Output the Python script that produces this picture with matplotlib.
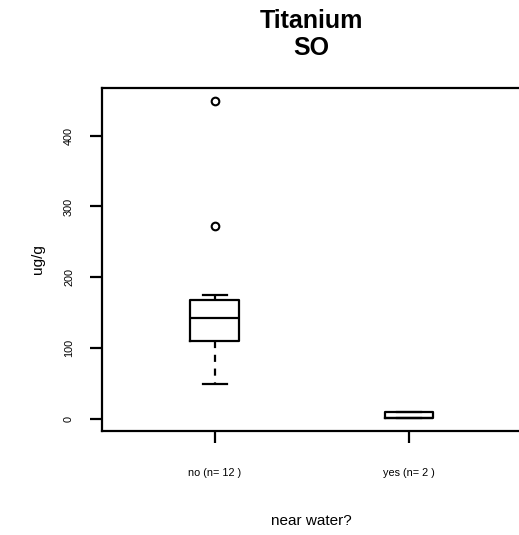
import matplotlib
matplotlib.use("Agg")

import matplotlib.pyplot as plt

# =========================
# Data
# =========================
GROUPS      = ["no", "yes"]
GROUP_N     = [12, 2]
WHISK_LO    = [49.6, 0.4]
Q1          = [109.5, 0.4]
MEDIAN      = [142.1, 0.4]
Q3          = [167.2, 9.5]
WHISK_HI    = [175.3, 9.5]
FLIERS      = [[449.6, 272.5], []]

TITLE_1 = "Titanium"
TITLE_2 = "SO"
Y_LABEL = "ug/g"
X_LABEL = "near water?"
Y_TICKS = [0, 100, 200, 300, 400]

# =========================
# Style
# =========================
W_PX, H_PX, DPI = 519, 535, 100
LW = 1.6
TICK_FS = 7.8
LABEL_FS = 11
TITLE_FS = 18

plt.rcParams["font.family"] = ["Liberation Sans", "DejaVu Sans"]

fig = plt.figure(figsize=(W_PX / DPI, H_PX / DPI), dpi=DPI)

# axes box in pixel geometry (right spine falls just outside the canvas)
left, right, top, bottom = 102, 521.5, 88, 431
ax = fig.add_axes([left / W_PX, 1 - bottom / H_PX,
                   (right - left) / W_PX, (bottom - top) / H_PX])

stats = []
for i, g in enumerate(GROUPS):
    stats.append(dict(
        label=f"{g} (n= {GROUP_N[i]} )",
        whislo=WHISK_LO[i], q1=Q1[i], med=MEDIAN[i],
        q3=Q3[i], whishi=WHISK_HI[i], fliers=FLIERS[i],
    ))

positions = list(range(1, len(GROUPS) + 1))
ax.bxp(
    stats, positions=positions, widths=0.25, showfliers=True,
    boxprops=dict(color="black", linewidth=LW),
    medianprops=dict(color="black", linewidth=LW),
    whiskerprops=dict(color="black", linewidth=LW, linestyle=(0, (3.2, 3.0))),
    capprops=dict(color="black", linewidth=LW),
    flierprops=dict(marker="o", markerfacecolor="none", markeredgecolor="black",
                    markersize=5.5, markeredgewidth=1.5),
)

# R-style 4% axis expansion
ax.set_xlim(0.5 - 0.08, len(GROUPS) + 0.5 + 0.08)
all_vals = WHISK_LO + WHISK_HI + [v for f in FLIERS for v in f]
lo, hi = min(all_vals), max(all_vals)
pad = 0.04 * (hi - lo)
ax.set_ylim(lo - pad, hi + pad)

for s in ax.spines.values():
    s.set_linewidth(LW)

ax.set_yticks(Y_TICKS)
ax.set_yticklabels([str(t) for t in Y_TICKS])
ax.tick_params(axis="y", length=8.6, width=LW, pad=11.5, labelsize=TICK_FS,
               labelrotation=90)
for t in ax.get_yticklabels():
    t.set_va("center")
ax.tick_params(axis="x", length=8.6, width=LW, pad=18, labelsize=TICK_FS)

fig.text(311.5 / W_PX, 1 - 28.3 / H_PX, TITLE_1, ha="center", va="baseline",
         fontsize=TITLE_FS, fontweight="bold")
fig.text(311.5 / W_PX, 1 - 55 / H_PX, TITLE_2, ha="center", va="baseline",
         fontsize=TITLE_FS, fontweight="bold")
fig.text(38 / W_PX, 1 - 259.5 / H_PX, Y_LABEL, rotation=90, ha="center",
         va="center", fontsize=LABEL_FS)
fig.text(311.5 / W_PX, 1 - 525 / H_PX, X_LABEL, ha="center", va="baseline",
         fontsize=LABEL_FS)

fig.savefig("out.png", dpi=DPI)
